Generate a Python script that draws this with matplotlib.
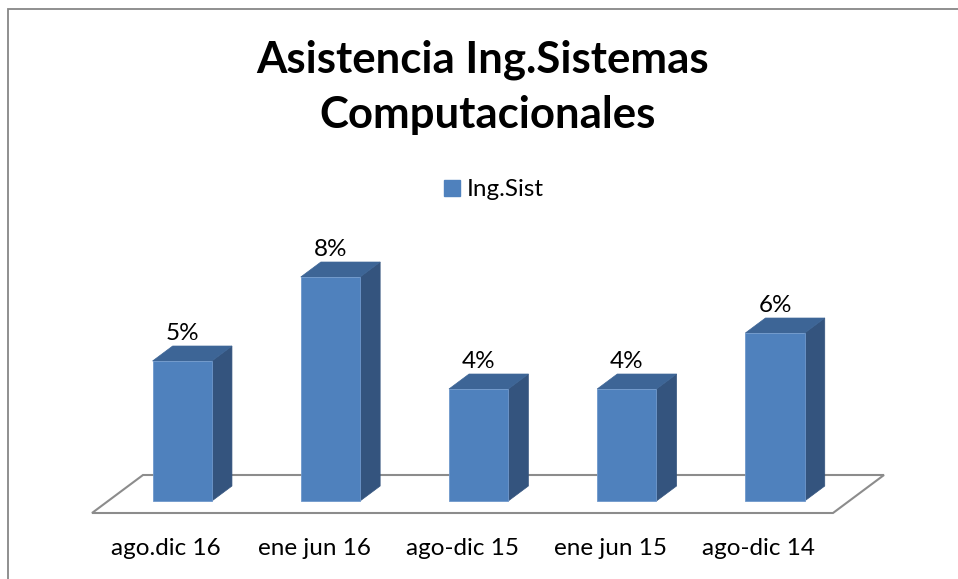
import matplotlib
matplotlib.use('Agg')
import matplotlib.pyplot as plt
from matplotlib.patches import Polygon, Patch, Rectangle

# asistencia por periodo, en porcentaje
periodos = ['ago.dic 16', 'ene jun 16', 'ago-dic 15', 'ene jun 15', 'ago-dic 14']
asistencia = [5, 8, 4, 4, 6]
serie = 'Ing.Sist'

W, H = 958, 579
fig = plt.figure(figsize=(W / 100, H / 100), dpi=100)
plt.rcParams['font.family'] = ['Lato', 'DejaVu Sans']

# marco del grafico
fig.patches.append(Rectangle((8 / W, -0.02), 1.05, (H - 9) / H + 0.02,
                             transform=fig.transFigure, fill=False,
                             edgecolor='#878787', linewidth=1.3))

# ejes: piso frontal de x=92 a 833 px, y=513 px (desde arriba)
ax = fig.add_axes([92 / W, (H - 513) / H, 741 / W, 280 / H])
ax.set_xlim(-0.5, len(periodos) - 0.5)
ax.set_ylim(0, 10)
for s in ax.spines.values():
    s.set_visible(False)
ax.set_yticks([])
ax.set_xticks(range(len(periodos)))
ax.set_xticklabels(periodos, fontsize=17.5)
ax.tick_params(axis='x', length=0, pad=18)

# profundidad del piso (en pixeles) pasada a unidades de datos
px_x = (741 / W * fig.get_figwidth() * fig.dpi) / 5.0
px_y = (280 / H * fig.get_figheight() * fig.dpi) / 10.0
dep_x = 51 / px_x
dep_y = 38 / px_y

def pt(x, y, z):
    return (x + z * dep_x, y + z * dep_y)

# piso
n = len(periodos)
piso = [pt(-0.5, 0, 0), pt(n - 0.5, 0, 0), pt(n - 0.5, 0, 1), pt(-0.5, 0, 1)]
ax.add_patch(Polygon(piso, closed=True, fill=False, edgecolor='#8c8c8c',
                     linewidth=1.5, clip_on=False))

z0, z1 = 0.316, 0.71
ancho = 0.4
c_frente, c_lado, c_tope = '#4f81bd', '#34547e', '#3d6596'

for i, v in enumerate(asistencia):
    xl, xr = i - ancho / 2, i + ancho / 2
    frente = [pt(xl, 0, z0), pt(xr, 0, z0), pt(xr, v, z0), pt(xl, v, z0)]
    lado = [pt(xr, 0, z0), pt(xr, 0, z1), pt(xr, v, z1), pt(xr, v, z0)]
    tope = [pt(xl, v, z0), pt(xr, v, z0), pt(xr, v, z1), pt(xl, v, z1)]
    ax.add_patch(Polygon(lado, closed=True, facecolor=c_lado, edgecolor=c_lado,
                         linewidth=0.5, clip_on=False))
    ax.add_patch(Polygon(tope, closed=True, facecolor=c_tope, edgecolor=c_tope,
                         linewidth=0.5, clip_on=False))
    ax.add_patch(Polygon(frente, closed=True, facecolor=c_frente,
                         edgecolor='#6f98cc', linewidth=0.6, clip_on=False))
    ly = pt(i, v, z1)[1]
    lx = pt(i, v, z0)[0]
    ax.text(lx, ly + 2 / px_y, f'{v}%', ha='center', va='bottom', fontsize=17.5)

# titulo
fig.text(483 / W, (H - 72) / H, 'Asistencia Ing.Sistemas', ha='center',
         va='baseline', fontsize=31.5, fontweight='bold')
fig.text(488 / W, (H - 128) / H, 'Computacionales', ha='center',
         va='baseline', fontsize=31.5, fontweight='bold')

# leyenda
fig.legend(handles=[Patch(facecolor=c_frente, edgecolor=c_frente, label=serie)],
           loc='center', bbox_to_anchor=(494 / W, (H - 190) / H),
           frameon=False, fontsize=17.5, handlelength=0.65, handleheight=0.65,
           handletextpad=0.3, borderpad=0)

fig.savefig('out.png', dpi=100, facecolor='white')
